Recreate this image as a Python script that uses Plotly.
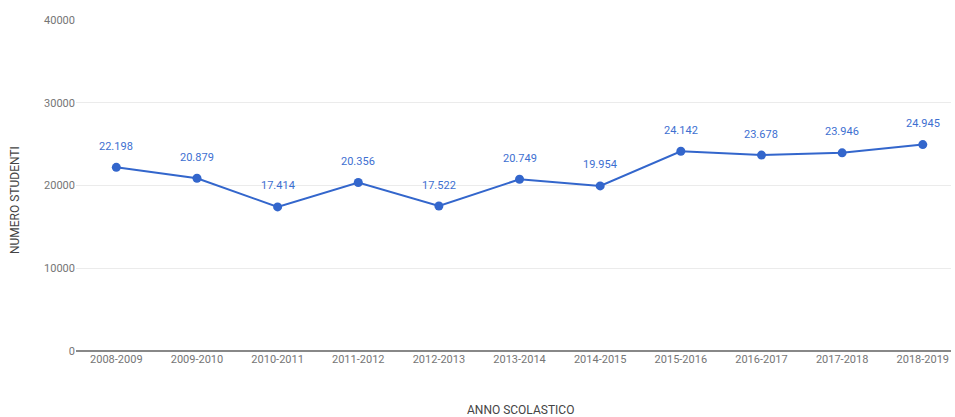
import plotly.graph_objects as go

categories = ["2008-2009", "2009-2010", "2010-2011", "2011-2012", "2012-2013",
              "2013-2014", "2014-2015", "2015-2016", "2016-2017", "2017-2018", "2018-2019"]
studenti = [22198, 20879, 17414, 20356, 17522, 20749, 19954, 24142, 23678, 23946, 24945]
y_ticks = [0, 10000, 20000, 30000, 40000]
x_title = "ANNO SCOLASTICO"
y_title = "NUMERO STUDENTI"

labels = [f"{v:,}".replace(",", ".") for v in studenti]

fig = go.Figure()
fig.add_trace(go.Scatter(
    x=categories, y=studenti, mode="lines+markers",
    line=dict(color="#3366cc", width=2),
    marker=dict(color="#3366cc", size=9),
    cliponaxis=False, hoverinfo="x+y",
))
for c, v, t in zip(categories, studenti, labels):
    fig.add_annotation(x=c, y=v, text=t, showarrow=False, yshift=21,
                       font=dict(family="Roboto", size=11, color="#3d6fd1"))

fig.add_annotation(xref="paper", yref="paper", x=0.5, y=0, xshift=7, yshift=-59,
                   text=x_title, showarrow=False, xanchor="center", yanchor="middle",
                   font=dict(family="Roboto", size=12, color="#444444"))
fig.add_annotation(xref="paper", yref="paper", x=0, y=0.456, xshift=-61,
                   text=y_title, showarrow=False, textangle=-90,
                   xanchor="center", yanchor="middle",
                   font=dict(family="Roboto", size=12, color="#444444"))

fig.update_layout(
    width=955, height=417,
    margin=dict(l=76, r=4, t=20, b=66),
    plot_bgcolor="white", paper_bgcolor="white",
    font=dict(family="Roboto", size=11, color="#757575"),
    showlegend=False,
    xaxis=dict(
        type="category", range=[-0.5, 10.35],
        showgrid=False, zeroline=False, showline=False,
        ticks="", tickfont=dict(size=11, color="#757575"),
    ),
    yaxis=dict(
        range=[0, 40000], tickvals=y_ticks, ticktext=[str(t) for t in y_ticks],
        showgrid=True, gridcolor="#ebebeb", gridwidth=1,
        zeroline=True, zerolinecolor="#888888", zerolinewidth=2,
        showline=False, ticks="", tickfont=dict(size=11, color="#757575"),
    ),
)

fig.write_html("out.html", config={"displayModeBar": False},
               post_script="document.body.style.margin='0';document.body.style.overflow='hidden';")
